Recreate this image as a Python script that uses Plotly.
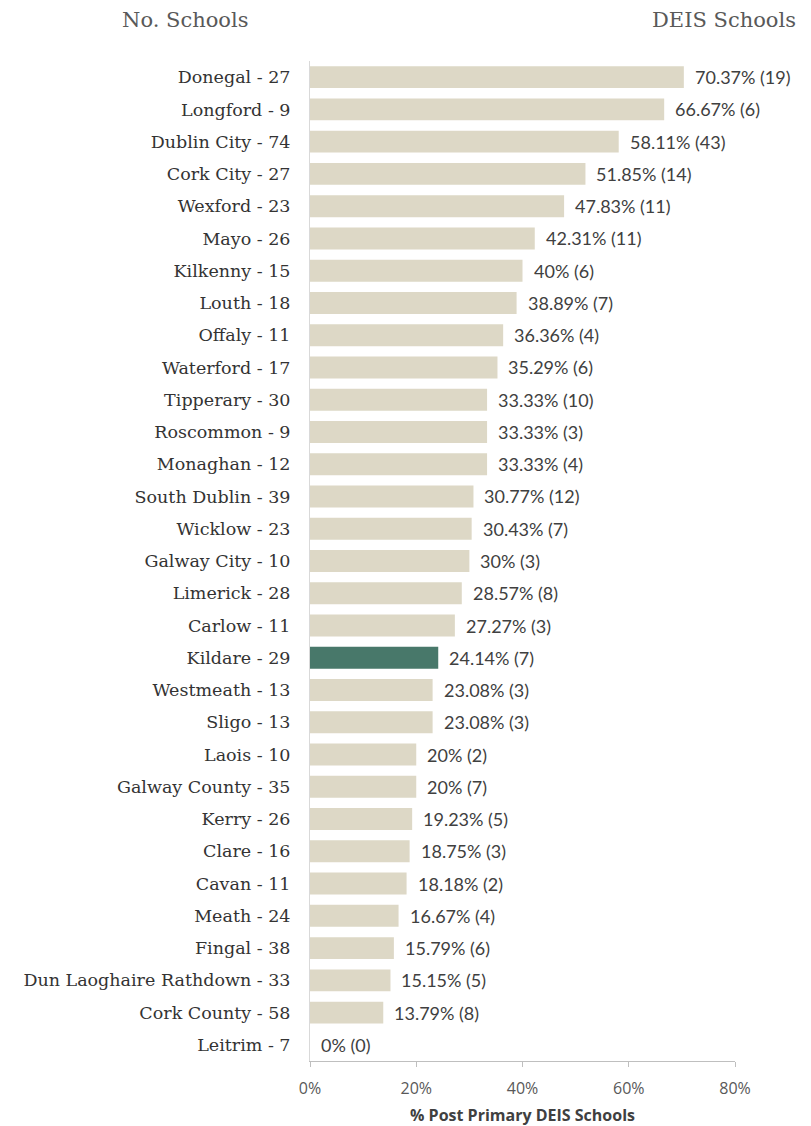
import plotly.graph_objects as go

counties = ["Donegal", "Longford", "Dublin City", "Cork City", "Wexford", "Mayo", "Kilkenny",
            "Louth", "Offaly", "Waterford", "Tipperary", "Roscommon", "Monaghan", "South Dublin",
            "Wicklow", "Galway City", "Limerick", "Carlow", "Kildare", "Westmeath", "Sligo",
            "Laois", "Galway County", "Kerry", "Clare", "Cavan", "Meath", "Fingal",
            "Dun Laoghaire Rathdown", "Cork County", "Leitrim"]
num_schools = [27, 9, 74, 27, 23, 26, 15, 18, 11, 17, 30, 9, 12, 39, 23, 10, 28, 11, 29, 13, 13,
               10, 35, 26, 16, 11, 24, 38, 33, 58, 7]
deis_pct = [70.37, 66.67, 58.11, 51.85, 47.83, 42.31, 40, 38.89, 36.36, 35.29, 33.33, 33.33, 33.33,
            30.77, 30.43, 30, 28.57, 27.27, 24.14, 23.08, 23.08, 20, 20, 19.23, 18.75, 18.18, 16.67,
            15.79, 15.15, 13.79, 0]
deis_count = [19, 6, 43, 14, 11, 11, 6, 7, 4, 6, 10, 3, 4, 12, 7, 3, 8, 3, 7, 3, 3, 2, 7, 5, 3, 2,
              4, 6, 5, 8, 0]
highlight = "Kildare"
x_ticks = [0, 20, 40, 60, 80]

labels = [f"{c} - {n}" for c, n in zip(counties, num_schools)]
colors = ["#48786a" if c == highlight else "#ddd8c6" for c in counties]

def fmt(v):
    return f"{v:.2f}".rstrip("0").rstrip(".")

texts = [f"{fmt(p)}% ({n})" for p, n in zip(deis_pct, deis_count)]

fig = go.Figure()
fig.add_trace(go.Bar(
    y=labels, x=deis_pct, orientation="h",
    marker=dict(color=colors, line=dict(width=0)),
    hoverinfo="skip",
))

for lab, p, t in zip(labels, deis_pct, texts):
    fig.add_annotation(x=p, y=lab, text=t, xanchor="left", yanchor="middle", xshift=9,
                       showarrow=False, font=dict(family="Lato", size=18, color="#404040"))

fig.update_layout(
    width=811, height=1126,
    margin=dict(l=310, r=76, t=61, b=65),
    paper_bgcolor="white", plot_bgcolor="white",
    bargap=0.32,
    showlegend=False,
    xaxis=dict(range=[0, 80], tickvals=x_ticks, ticktext=[f"{v}%" for v in x_ticks],
               automargin=False,
               showgrid=False, zeroline=False, showline=True, linecolor="#bfbfbf", linewidth=1,
               ticks="outside", ticklen=5, tickcolor="#bfbfbf", ticklabelstandoff=8,
               tickfont=dict(family="Open Sans", size=16, color="#595959"),
               title=dict(text="<b>% Post Primary DEIS Schools</b>", standoff=12,
                          font=dict(family="Open Sans", size=16, color="#404040"))),
    yaxis=dict(autorange="reversed", showgrid=False, zeroline=False, showline=True,
               automargin=False,
               linecolor="#d9d9d9", linewidth=1, ticks="", ticklabelstandoff=15,
               tickfont=dict(family="DejaVu Serif", size=17.5, color="#333333")),
)

fig.add_annotation(text="No. Schools", xref="paper", yref="paper", x=(185 - 310) / 425, y=(1126 - 65 - 20) / 1000,
                   xanchor="center", yanchor="middle", showarrow=False,
                   font=dict(family="DejaVu Serif", size=21, color="#595959"))
fig.add_annotation(text="DEIS Schools", xref="paper", yref="paper", x=(798 - 310) / 425, y=(1126 - 65 - 20) / 1000,
                   xanchor="right", yanchor="middle", showarrow=False,
                   font=dict(family="DejaVu Serif", size=21, color="#595959"))

fig.write_html("out.html")
